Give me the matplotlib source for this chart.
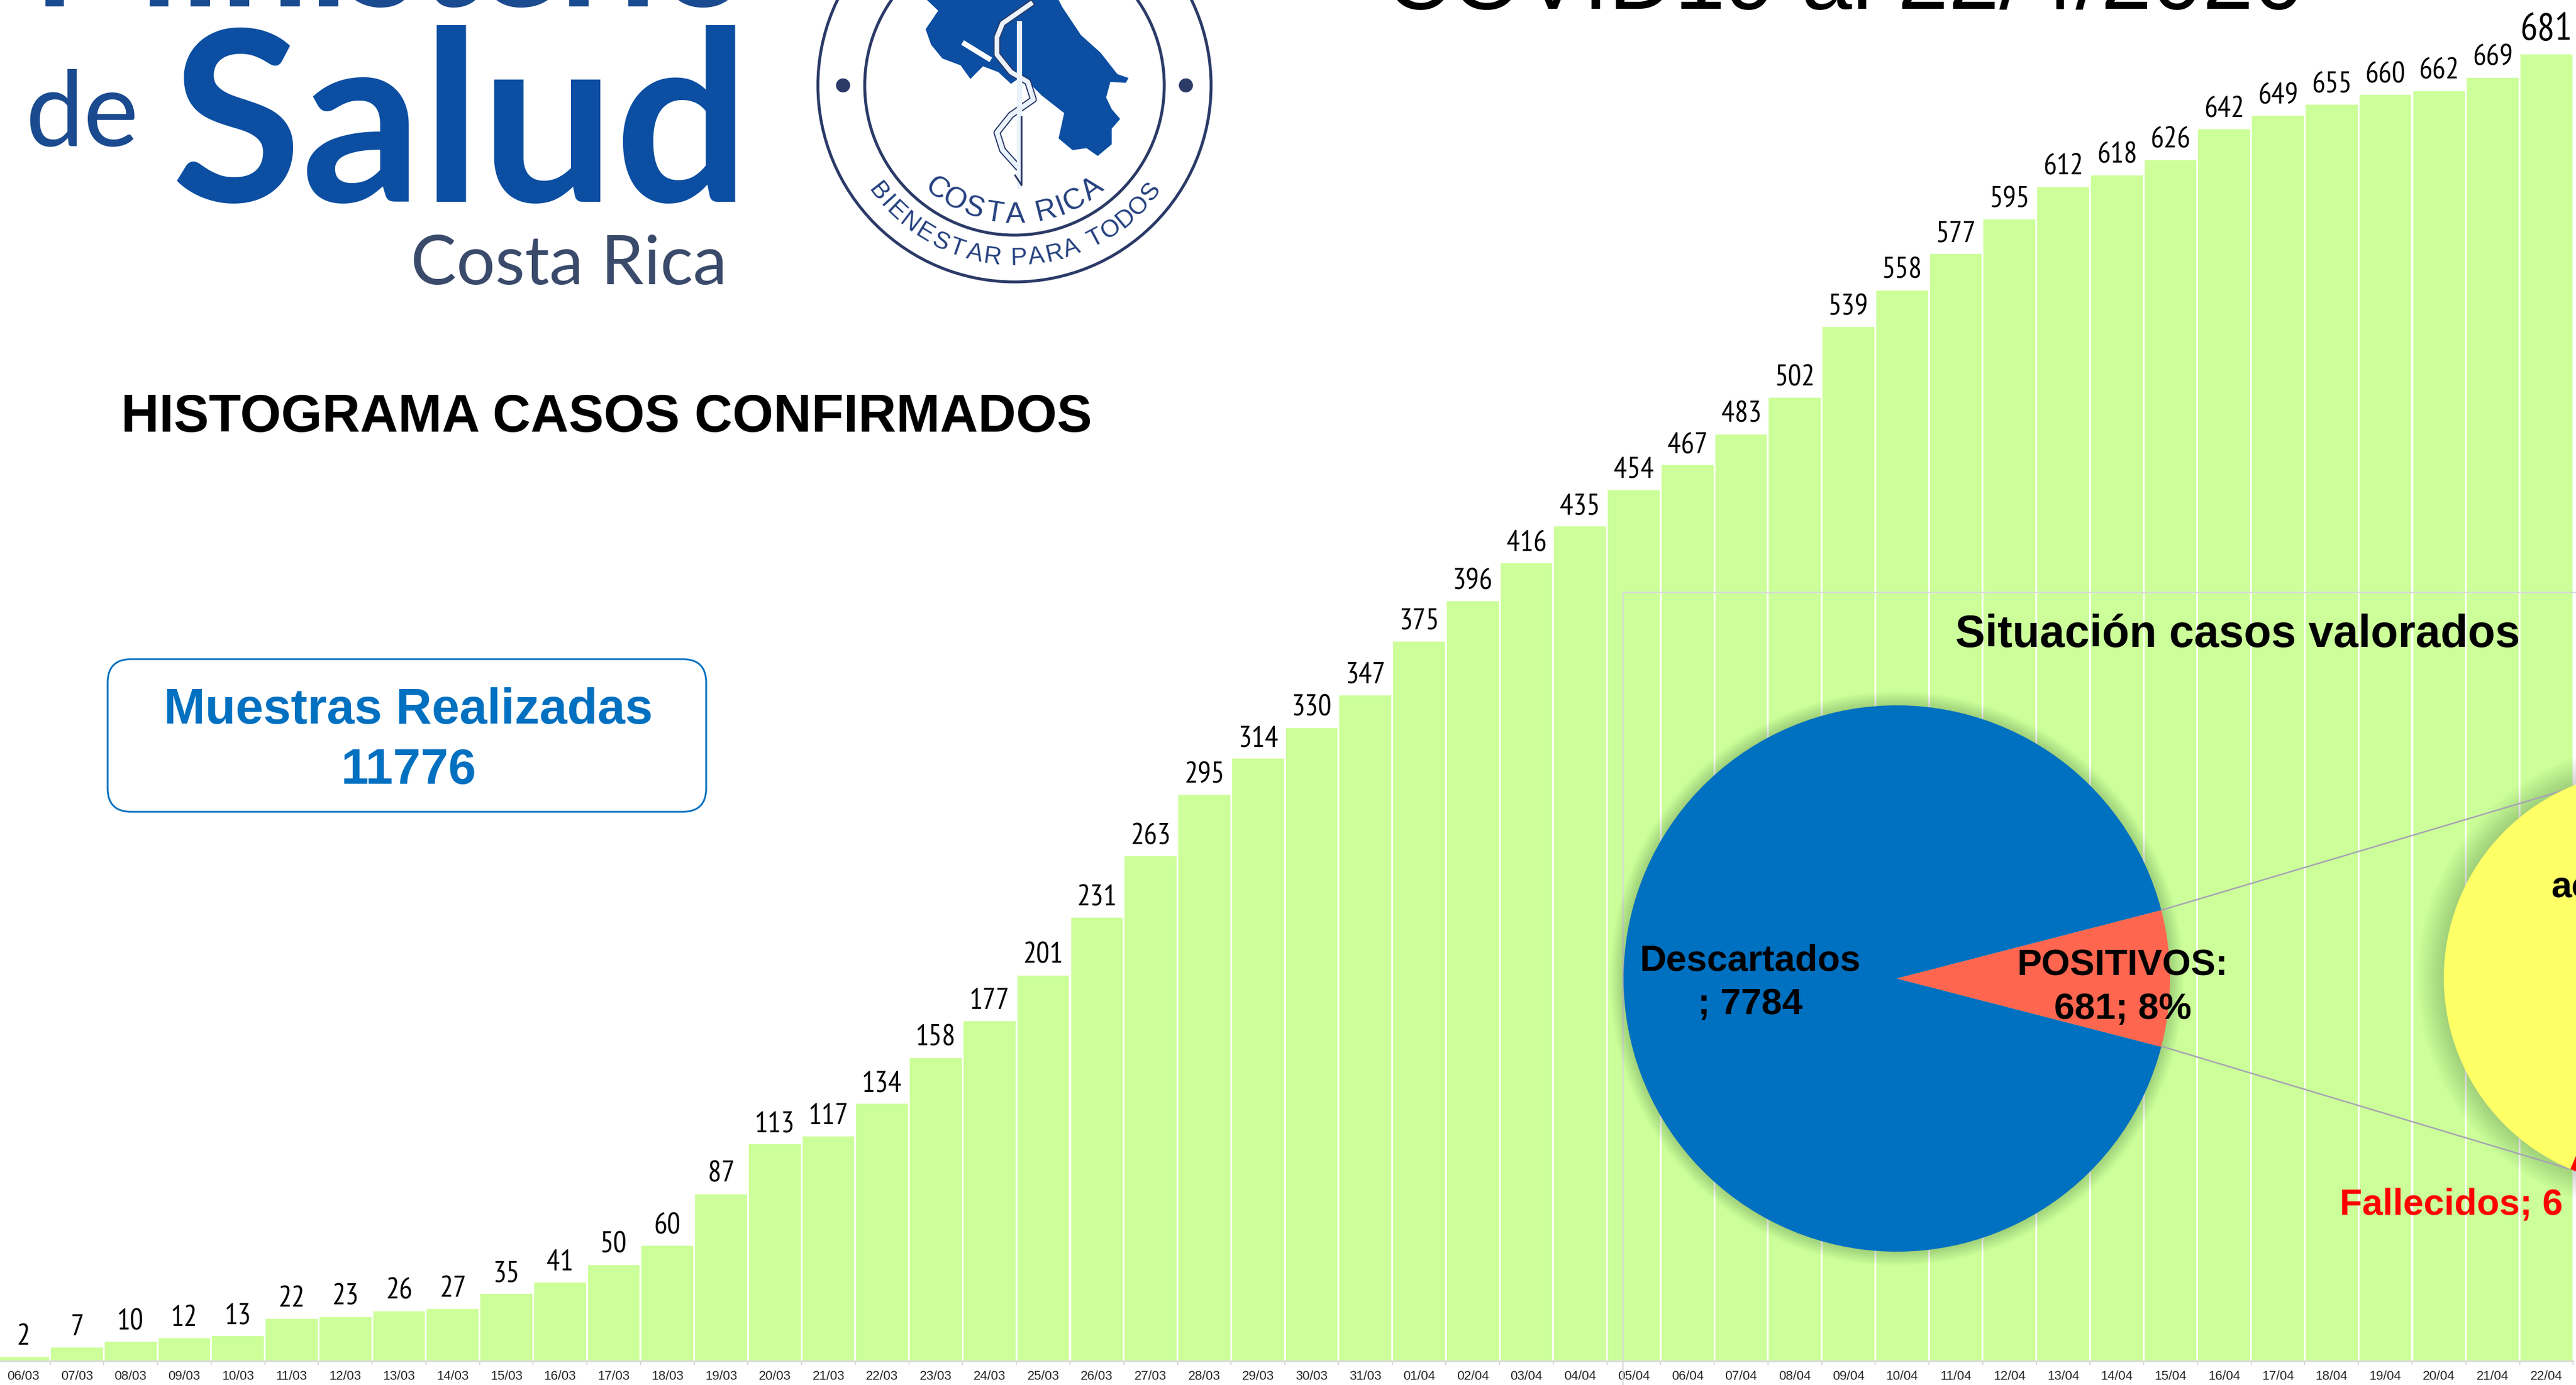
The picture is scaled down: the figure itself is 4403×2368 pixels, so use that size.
# Histograma de casos confirmados COVID19 Costa Rica, al 22/4/2020
import matplotlib
matplotlib.use("Agg")
import numpy as np
import matplotlib.pyplot as plt
from matplotlib.patches import Circle, FancyBboxPatch, Polygon, Rectangle

W, H = 4403, 2368

# data
fechas = ["06/03", "07/03", "08/03", "09/03", "10/03", "11/03", "12/03", "13/03",
          "14/03", "15/03", "16/03", "17/03", "18/03", "19/03", "20/03", "21/03",
          "22/03", "23/03", "24/03", "25/03", "26/03", "27/03", "28/03", "29/03",
          "30/03", "31/03", "01/04", "02/04", "03/04", "04/04", "05/04", "06/04",
          "07/04", "08/04", "09/04", "10/04", "11/04", "12/04", "13/04", "14/04",
          "15/04", "16/04", "17/04", "18/04", "19/04", "20/04", "21/04", "22/04"]
casos = [2, 7, 10, 12, 13, 22, 23, 26, 27, 35, 41, 50, 60, 87, 113, 117,
         134, 158, 177, 201, 231, 263, 295, 314, 330, 347, 375, 396, 416, 435, 454, 467,
         483, 502, 539, 558, 577, 595, 612, 618, 626, 642, 649, 655, 660, 662, 669, 681]
valorados = [7784, 681]
positivos = [6, 675]  # fallecidos, resto

AZUL = "#0070C0"
LOGO = "#0B4EA2"
NAVY = "#2B3A67"
SANS = ["Liberation Sans", "DejaVu Sans"]
NARROW = ["PT Sans Narrow", "Archivo Narrow", "Liberation Sans", "DejaVu Sans"]
LATO = ["Lato", "Liberation Sans", "DejaVu Sans"]


def pt(px):
    # figure is saved at dpi 100, sizes below were measured in pixels
    return px * 0.72


fig = plt.figure(figsize=(W / 100, H / 100), dpi=100, facecolor="white")

# bars
base = 2327
paso = 91.76
ax = fig.add_axes([-6.2 / W, (H - base) / H, 48 * paso / W, base / H], zorder=1)
x = np.arange(len(casos))
ax.bar(x, casos, width=0.967, color="#CCFF99")
ax.set_xlim(-0.5, 47.5)
ax.set_ylim(0, base / 3.28)
ax.patch.set_alpha(0)
for s in ["top", "left", "right"]:
    ax.spines[s].set_visible(False)
ax.spines["bottom"].set_color("#D9D9D9")
ax.spines["bottom"].set_linewidth(pt(3))
ax.set_yticks([])
ax.set_xticks(np.arange(49) - 0.5)
ax.set_xticklabels([])
ax.tick_params(axis="x", which="major", length=pt(7), width=pt(2), color="#D9D9D9")
ax.set_xticks(x, minor=True)
ax.set_xticklabels(fechas, minor=True, family=SANS, fontsize=pt(22), color="#262626")
ax.tick_params(axis="x", which="minor", length=0, pad=pt(16))
for i, v in enumerate(casos):
    ultimo = i == len(casos) - 1
    ax.annotate(str(v), (i, v), xytext=(0, pt(25 if ultimo else 21)), textcoords="offset points",
                ha="center", va="baseline", family=NARROW, color="black",
                fontsize=pt(66 if ultimo else 51), annotation_clip=False)

# overlay in image pixels: inner chart frame, shadows, connector lines
ov = fig.add_axes([0, 0, 1, 1], zorder=2)
ov.set_xlim(0, W)
ov.set_ylim(H, 0)
ov.axis("off")
ov.add_patch(Rectangle((2774, 1013), 2000, 2000, fill=False, edgecolor="#D9D9D9", linewidth=pt(2.5)))


def sombra(cx, cy, r, ancho):
    for k in range(1, 16):
        ov.add_patch(Circle((cx, cy), r + ancho * k / 15, color="black", alpha=0.010, linewidth=0))


sombra(3242, 1673, 467, 24)
sombra(4532, 1672, 355, 45)
ov.plot([3695, 4403], [1556, 1345], color="#A6A3B4", linewidth=pt(2.5))
ov.plot([3695, 4393], [1789, 1999], color="#A6A3B4", linewidth=pt(2.5))


def pie_axes(cx, cy, r):
    a = fig.add_axes([(cx - r) / W, (H - cy - r) / H, 2 * r / W, 2 * r / H], zorder=3)
    a.set_aspect("equal")
    return a


# main pie, slice centred on the right
ap = pie_axes(3242, 1673, 467)
ap.pie(valorados, colors=[AZUL, "#FF6650"], radius=1,
       startangle=360 * valorados[1] / sum(valorados) / 2,
       wedgeprops={"linewidth": 0})
ap.set_xlim(-1, 1)
ap.set_ylim(-1, 1)

# second pie, mostly outside the picture
ap2 = pie_axes(4532, 1672, 355)
ap2.pie(positivos, colors=["#FF0000", "#FFFF66"], radius=1, startangle=247,
        wedgeprops={"linewidth": 0})
ap2.set_xlim(-1, 1)
ap2.set_ylim(-1, 1)

# texts and logo on top
tx = fig.add_axes([0, 0, 1, 1], zorder=4)
tx.set_xlim(0, W)
tx.set_ylim(H, 0)
tx.axis("off")


def texto(px, py, s, size, ha="center", family=SANS, weight="bold", color="black", **kw):
    return tx.text(px, py, s, fontsize=pt(size), ha=ha, va="baseline", family=family,
                   weight=weight, color=color, clip_on=False, **kw)


texto(3628, 1668, "POSITIVOS:", 63)
texto(3628, 1742, "681; 8%", 63)
texto(2992, 1660, "Descartados", 63)
texto(2992, 1734, "; 7784", 63)
texto(3825, 1106, "Situación casos valorados", 76.5)
texto(3999, 2077, "Fallecidos; 6", 63, ha="left", color="#FF0000")
texto(4360, 1534, "activos", 63, ha="left")

texto(1037, 738, "HISTOGRAMA CASOS CONFIRMADOS", 90)
texto(3153, 15, "COVID19 al 22/4/2020", 156, weight="normal")

tx.add_patch(FancyBboxPatch((184, 1127), 1023, 261, boxstyle="round,pad=0,rounding_size=40",
                            facecolor="white", edgecolor=AZUL, linewidth=pt(3)))
texto(698, 1237, "Muestras Realizadas", 85, color=AZUL)
texto(698, 1340, "11776", 85, color=AZUL)

# logo Ministerio de Salud
texto(667, 11, "Ministerio", 268, family=LATO, color="#1A4A8F")
texto(43, 250, "de", 178, ha="left", family=LATO, weight="normal", color="#1A4A8F")
texto(293, 345, "Salud", 406, ha="left", family=LATO, color=LOGO)
texto(702, 486, "Costa Rica", 117, ha="left", family=LATO, weight="normal", color="#3A4A6B")

# emblem
ex, ey = 1734, 146
tx.add_patch(Circle((ex, ey), 336, fill=False, edgecolor=NAVY, linewidth=pt(5)))
tx.add_patch(Circle((ex, ey), 256, fill=False, edgecolor=NAVY, linewidth=pt(5)))
for dx in (-293, 293):
    tx.add_patch(Circle((ex + dx, ey), 12, color=NAVY, linewidth=0))

# map outline and snake, traced in a 750x520 crop of the emblem
mapa = np.array([(490, 0), (530, 55), (485, 150), (505, 230), (545, 300), (610, 335), (645, 405),
                 (690, 340), (745, 370), (790, 430), (830, 390), (900, 490), (980, 580), (960, 710),
                 (1010, 770), (1060, 760), (1100, 800), (1150, 740), (1150, 660), (1180, 610),
                 (1150, 560), (1130, 500), (1145, 420), (1200, 425), (1210, 400), (1170, 380),
                 (1110, 270), (1040, 180), (975, 40), (960, 0)], dtype=float)
culebra = np.array([(860, 20), (760, 120), (740, 190), (740, 280), (790, 370), (850, 420),
                    (870, 510), (790, 590), (740, 680), (760, 770), (810, 850)], dtype=float)


def recorte(p):
    return np.column_stack([1350 + p[:, 0] / 2.09, p[:, 1] / 3])


tx.add_patch(Polygon(recorte(mapa), closed=True, facecolor=LOGO, edgecolor="none"))
b = recorte(np.array([(625, 225), (710, 300)], dtype=float))
tx.plot(b[:, 0], b[:, 1], color="white", linewidth=pt(9))
c = recorte(culebra)
tx.plot(c[:, 0], c[:, 1], color=NAVY, linewidth=pt(12))
tx.plot(c[:, 0], c[:, 1], color="#EAF3FB", linewidth=pt(8))
e = recorte(np.array([(820, 120), (820, 950)], dtype=float))
tx.plot(e[:, 0], e[:, 1], color="#EAF3FB", linewidth=pt(9))
e2 = recorte(np.array([(828, 600), (828, 950), (805, 900)], dtype=float))
tx.plot(e2[:, 0], e2[:, 1], color=NAVY, linewidth=pt(3))


def arco(s, r, ang, size):
    # step along the arc follows a rough letter width
    pesos = np.array([0.45 if ch in "I " else 1.0 for ch in s])
    pos = np.cumsum(pesos) - pesos / 2
    angs = -ang + 2 * ang * (pos - pos[0]) / (pos[-1] - pos[0])
    for ch, a in zip(s, angs):
        t = np.radians(a)
        tx.text(ex + r * np.sin(t), ey + r * np.cos(t), ch, fontsize=pt(size), rotation=a,
                rotation_mode="anchor", ha="center", va="center", family=SANS, color="#24407F")


arco("COSTA RICA", 222, 37, 50)
arco("BIENESTAR PARA TODOS", 296, 52, 42)

fig.savefig("out.png", dpi=100, facecolor="white")
